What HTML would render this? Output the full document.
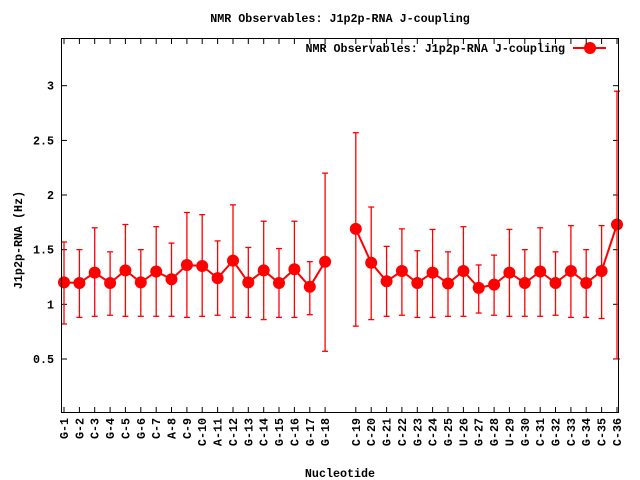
<!DOCTYPE html>
<html><head><meta charset="utf-8"><style>
html,body{margin:0;padding:0;background:#fff;}
svg{display:block;font-family:"Liberation Mono",monospace;font-weight:bold;font-size:11.7px;}
</style></head><body>
<svg id="s" width="640" height="480" xmlns="http://www.w3.org/2000/svg">
<text x="340" y="22" text-anchor="middle">NMR Observables: J1p2p-RNA J-coupling</text>
<text x="340" y="477" text-anchor="middle">Nucleotide</text>
<text transform="translate(22,240) rotate(-90)" text-anchor="middle">J1p2p-RNA (Hz)</text>
<text x="565" y="52" text-anchor="end">NMR Observables: J1p2p-RNA J-coupling</text>
<line x1="573" y1="48" x2="606" y2="48" stroke="#f00" stroke-width="2"/>
<circle cx="590" cy="48" r="6" fill="#f00"/>
<g id="g"></g>
<rect x="61.5" y="38.5" width="557" height="374" fill="none" stroke="#000" stroke-width="1"/>
</svg>
<script>
var labs="G-1 G-2 C-3 G-4 C-5 G-6 C-7 A-8 C-9 C-10 A-11 C-12 G-13 C-14 G-15 C-16 G-17 G-18 C-19 C-20 G-21 C-22 G-23 C-24 G-25 U-26 G-27 G-28 U-29 G-30 C-31 G-32 C-33 G-34 C-35 C-36".split(" ");
var d=[[1.20,1.57,0.82],[1.195,1.50,0.88],[1.29,1.70,0.89],[1.195,1.48,0.90],[1.31,1.73,0.89],[1.20,1.50,0.89],[1.30,1.71,0.89],[1.23,1.56,0.89],[1.36,1.84,0.88],[1.35,1.82,0.89],[1.24,1.58,0.90],[1.40,1.91,0.88],[1.20,1.52,0.88],[1.31,1.76,0.86],[1.195,1.51,0.88],[1.32,1.76,0.88],[1.16,1.39,0.905],[1.39,2.20,0.57],
[1.69,2.57,0.80],[1.38,1.89,0.86],[1.21,1.53,0.89],[1.305,1.69,0.90],[1.195,1.49,0.88],[1.29,1.685,0.88],[1.19,1.48,0.89],[1.305,1.71,0.89],[1.15,1.36,0.92],[1.18,1.45,0.90],[1.29,1.685,0.89],[1.195,1.50,0.89],[1.30,1.70,0.89],[1.195,1.48,0.90],[1.305,1.72,0.88],[1.195,1.50,0.88],[1.305,1.72,0.87],[1.73,2.95,0.50]];
function X(i){var k=i<18?i:i+1;return 64+k*15.36;}
function Y(v){return 413.6-v*109.3;}
var h="";
[0.5,1,1.5,2,2.5,3].forEach(function(v){var y=Y(v).toFixed(1);
h+='<line x1="61.5" y1="'+y+'" x2="67" y2="'+y+'" stroke="#000"/><line x1="613" y1="'+y+'" x2="618.5" y2="'+y+'" stroke="#000"/>';
h+='<text x="54" y="'+(+y+4)+'" text-anchor="end">'+v+'</text>';});
var pts=[];
for(var i=0;i<36;i++){var x=X(i).toFixed(1);
h+='<line x1="'+x+'" y1="412.5" x2="'+x+'" y2="407" stroke="#000"/><line x1="'+x+'" y1="38.5" x2="'+x+'" y2="44" stroke="#000"/>';
h+='<text transform="translate('+(+x+4)+',418) rotate(-90)" text-anchor="end">'+labs[i]+'</text>';
var a=Y(d[i][1]),b=Y(d[i][2]);
h+='<line x1="'+x+'" y1="'+a+'" x2="'+x+'" y2="'+b+'" stroke="#f00" stroke-width="1.3"/><line x1="'+(x-3)+'" y1="'+a+'" x2="'+(+x+3)+'" y2="'+a+'" stroke="#f00" stroke-width="1.3"/><line x1="'+(x-3)+'" y1="'+b+'" x2="'+(+x+3)+'" y2="'+b+'" stroke="#f00" stroke-width="1.3"/>';
pts.push([x,Y(d[i][0]).toFixed(1)]);}
function pl(s){return '<polyline points="'+s.map(function(p){return p.join(",")}).join(" ")+'" fill="none" stroke="#f00" stroke-width="2"/>';}
h+=pl(pts.slice(0,18))+pl(pts.slice(18));
pts.forEach(function(p){h+='<circle cx="'+p[0]+'" cy="'+p[1]+'" r="6" fill="#f00"/>';});
document.getElementById("g").innerHTML=h;
</script>
</body></html>
